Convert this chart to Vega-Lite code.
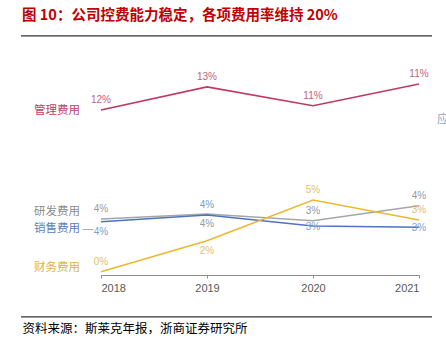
{
  "$schema": "https://vega.github.io/schema/vega-lite/v6.json",
  "width": 318,
  "height": 235,
  "autosize": {"type": "none"},
  "padding": {"left": 101, "right": 27, "top": 40, "bottom": 70},
  "background": "white",
  "config": {"view": {"stroke": null}, "font": "Noto Sans CJK SC"},
  "title": {
    "text": "图  10：公司控费能力稳定，各项费用率维持 20%",
    "anchor": "start",
    "frame": "group",
    "dx": -79,
    "offset": 12,
    "color": "#C00000",
    "fontSize": 14.5,
    "fontWeight": "bold",
    "font": "Noto Sans CJK SC"
  },
  "data": {
    "values": [
      {"series": "管理费用", "year": 2018, "value": 11.8, "label": "12%"},
      {"series": "管理费用", "year": 2019, "value": 13.45, "label": "13%"},
      {"series": "管理费用", "year": 2020, "value": 12.1, "label": "11%"},
      {"series": "管理费用", "year": 2021, "value": 13.65, "label": "11%"},
      {"series": "研发费用", "year": 2018, "value": 4.0, "label": "4%"},
      {"series": "研发费用", "year": 2019, "value": 4.36, "label": "4%"},
      {"series": "研发费用", "year": 2020, "value": 3.88, "label": "3%"},
      {"series": "研发费用", "year": 2021, "value": 4.95, "label": "4%"},
      {"series": "销售费用", "year": 2018, "value": 3.81, "label": "4%"},
      {"series": "销售费用", "year": 2019, "value": 4.29, "label": "4%"},
      {"series": "销售费用", "year": 2020, "value": 3.5, "label": "3%"},
      {"series": "销售费用", "year": 2021, "value": 3.41, "label": "3%"},
      {"series": "财务费用", "year": 2018, "value": 0.24, "label": "0%"},
      {"series": "财务费用", "year": 2019, "value": 2.45, "label": "2%"},
      {"series": "财务费用", "year": 2020, "value": 5.36, "label": "5%"},
      {"series": "财务费用", "year": 2021, "value": 3.93, "label": "3%"}
    ]
  },
  "encoding": {
    "x": {
      "field": "year",
      "type": "quantitative",
      "scale": {"domain": [2018, 2021], "nice": false, "zero": false},
      "axis": {
        "values": [2018, 2019, 2020, 2021],
        "format": "d",
        "grid": false,
        "labelFontSize": 11,
        "labelFont": "Liberation Sans",
        "labelColor": "#595959",
        "labelPadding": 4,
        "domainColor": "#8c8c8c",
        "tickColor": "#8c8c8c",
        "tickSize": 3,
        "title": "资料来源：斯莱克年报，浙商证券研究所",
        "titleAnchor": "start",
        "titleX": -79,
        "titleY": 53,
        "titleBaseline": "middle",
        "titleFontSize": 12.5,
        "titleFontWeight": "normal",
        "titleColor": "#000000",
        "titleFont": "Noto Sans CJK SC"
      }
    },
    "y": {
      "field": "value",
      "type": "quantitative",
      "scale": {"domain": [0, 16.8], "nice": false, "zero": false},
      "axis": null
    }
  },
  "layer": [
    {
      "mark": {"type": "line", "strokeWidth": 1.6},
      "encoding": {
        "color": {
          "field": "series",
          "type": "nominal",
          "scale": {
            "domain": ["管理费用", "研发费用", "销售费用", "财务费用"],
            "range": ["#BE3A5E", "#A6A6A6", "#4E74BF", "#EDB82F"]
          },
          "legend": null
        }
      }
    },
    {
      "transform": [
        {"filter": "!((datum.series == '销售费用' && (datum.year == 2018 || datum.year >= 2020)) || (datum.series == '研发费用' && datum.year == 2019) || (datum.series == '财务费用' && datum.year == 2019))"}
      ],
      "mark": {"type": "text", "dy": -10, "fontSize": 10, "font": "Liberation Sans"},
      "encoding": {
        "text": {"field": "label"},
        "fill": {
          "field": "series",
          "type": "nominal",
          "scale": {
            "domain": ["管理费用", "研发费用", "销售费用", "财务费用"],
            "range": ["#C4617F", "#9A9A9A", "#7F9DCB", "#E2BE6C"]
          },
          "legend": null
        }
      }
    },
    {
      "transform": [
        {"filter": "(datum.series == '销售费用' && datum.year == 2018) || (datum.series == '研发费用' && datum.year == 2019) || (datum.series == '财务费用' && datum.year == 2019)"}
      ],
      "mark": {"type": "text", "dy": 10, "fontSize": 10, "font": "Liberation Sans"},
      "encoding": {
        "text": {"field": "label"},
        "fill": {"field": "series", "type": "nominal", "legend": null}
      }
    },
    {
      "transform": [
        {"filter": "datum.series == '销售费用' && datum.year >= 2020"}
      ],
      "mark": {"type": "text", "dy": 1, "fontSize": 10, "font": "Liberation Sans"},
      "encoding": {
        "text": {"field": "label"},
        "fill": {"field": "series", "type": "nominal", "legend": null}
      }
    },
    {
      "transform": [{"filter": "datum.year == 2018 && datum.series == '管理费用'"}],
      "mark": {"type": "text", "align": "right", "dx": -21, "dy": 1, "fontSize": 11.5, "font": "Noto Sans CJK SC", "fill": "#B8436A"},
      "encoding": {"text": {"field": "series"}}
    },
    {
      "transform": [{"filter": "datum.year == 2018 && datum.series == '研发费用'"}],
      "mark": {"type": "text", "align": "right", "dx": -21, "dy": -7, "fontSize": 11.5, "font": "Noto Sans CJK SC", "fill": "#8C8C8C"},
      "encoding": {"text": {"field": "series"}}
    },
    {
      "transform": [{"filter": "datum.year == 2018 && datum.series == '销售费用'"}],
      "mark": {"type": "text", "align": "right", "dx": -21, "dy": 7, "fontSize": 11.5, "font": "Noto Sans CJK SC", "fill": "#5E80BA"},
      "encoding": {"text": {"field": "series"}}
    },
    {
      "transform": [{"filter": "datum.year == 2018 && datum.series == '销售费用'"}],
      "mark": {"type": "text", "align": "center", "dx": -13, "dy": 7, "fontSize": 11, "font": "Liberation Sans", "fill": "#9A9A9A", "text": "—"},
      "encoding": {}
    },
    {
      "transform": [{"filter": "datum.year == 2018 && datum.series == '财务费用'"}],
      "mark": {"type": "text", "align": "right", "dx": -21, "dy": -4, "fontSize": 11.5, "font": "Noto Sans CJK SC", "fill": "#E0B24A"},
      "encoding": {"text": {"field": "series"}}
    },
    {
      "transform": [{"filter": "datum.year == 2021 && datum.series == '管理费用'"}],
      "mark": {"type": "text", "align": "left", "dx": 18, "dy": 1, "fontSize": 11.5, "font": "Noto Sans CJK SC", "fill": "#8AA7CF", "text": "应"},
      "encoding": {"y": {"datum": 11.15}}
    },
    {
      "transform": [{"filter": "datum.year == 2018 && datum.series == '管理费用'"}],
      "mark": {"type": "rule", "color": "#333333", "strokeWidth": 1.2},
      "encoding": {"x": {"datum": 2017.245}, "x2": {"datum": 2021.123}, "y": {"datum": 17.09}}
    },
    {
      "transform": [{"filter": "datum.year == 2018 && datum.series == '管理费用'"}],
      "mark": {"type": "rule", "color": "#333333", "strokeWidth": 1.2},
      "encoding": {"x": {"datum": 2017.245}, "x2": {"datum": 2021.123}, "y": {"datum": -3.0}}
    }
  ]
}
